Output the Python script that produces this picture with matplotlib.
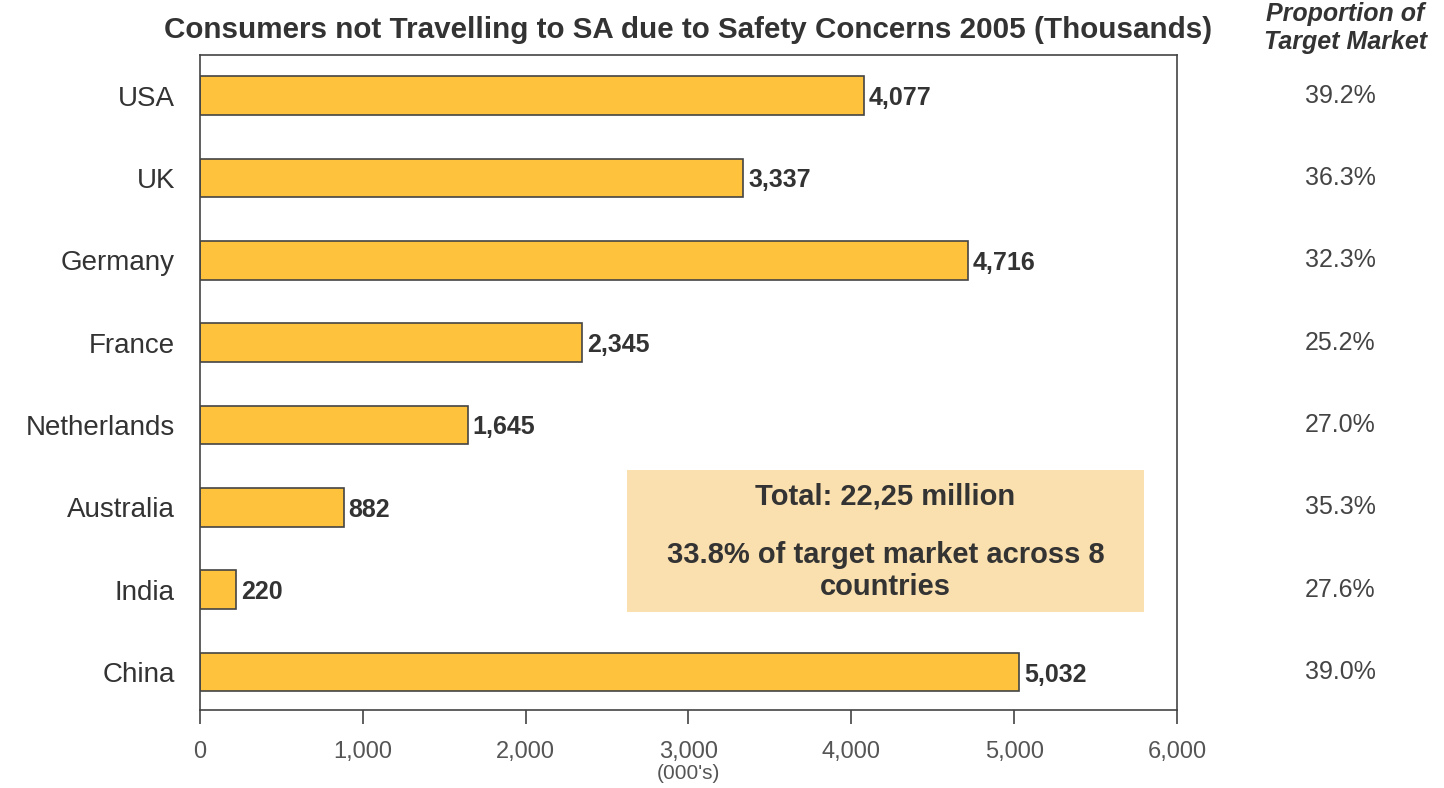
import matplotlib.pyplot as plt
from matplotlib.patches import Rectangle

plt.rcParams['font.family'] = ['Liberation Sans', 'DejaVu Sans']

countries = ['USA', 'UK', 'Germany', 'France', 'Netherlands', 'Australia', 'India', 'China']
consumers = [4077, 3337, 4716, 2345, 1645, 882, 220, 5032]
proportion = ['39.2%', '36.3%', '32.3%', '25.2%', '27.0%', '35.3%', '27.6%', '39.0%']
xticks = [0, 1000, 2000, 3000, 4000, 5000, 6000]

fig = plt.figure(figsize=(14.44, 7.88), dpi=100)
ax = fig.add_axes([0.1385, 0.099, 0.6766, 0.831])

pos = list(range(len(countries)))
ax.barh(pos, consumers, height=0.47, color='#FFC23C', edgecolor='#444444', linewidth=1.2)

# value labels at bar ends
for p, v in zip(pos, consumers):
    ax.text(v + 30, p + 0.03, f'{v:,}', va='center', ha='left', fontsize=18,
            fontweight='bold', color='#333333')

ax.set_ylim(7.46, -0.49)
ax.set_xlim(0, 6000)
ax.set_yticks(pos)
ax.set_yticklabels(countries, fontsize=20, color='#333333')
ax.tick_params(axis='y', length=0, pad=18)
ax.set_xticks(xticks)
ax.set_xticklabels([f'{t:,}' for t in xticks], fontsize=17, color='#555555')
ax.tick_params(axis='x', length=10, width=1.2, color='#444444', pad=12)
for s in ax.spines.values():
    s.set_color('#444444')
    s.set_linewidth(1.2)

ax.annotate("(000's)", xy=(0.5, 0), xycoords='axes fraction', xytext=(0, -39),
            textcoords='offset points', ha='center', va='top', fontsize=15,
            color='#555555')

ax.set_title('Consumers not Travelling to SA due to Safety Concerns 2005 (Thousands)',
             fontsize=21.3, fontweight='bold', color='#333333', pad=12, x=0.50)

# proportion column
for p, t in zip(pos, proportion):
    ax.text(1.167, p, t, transform=ax.get_yaxis_transform(), ha='center', va='center',
            fontsize=18, color='#444444')
fig.text(0.9315, 0.998, 'Proportion of\nTarget Market', ha='center', va='top',
         fontsize=18, fontweight='bold', fontstyle='italic', color='#333333',
         linespacing=1.25)

# summary box
ax.add_patch(Rectangle((2620, 4.545), 3180, 1.725, facecolor='#FAE0AE', edgecolor='none',
                       zorder=3))
ax.text(4210, 4.87, 'Total: 22,25 million', ha='center', va='center', fontsize=21,
        fontweight='bold', color='#333333', zorder=4)
ax.text(4210, 5.77, '33.8% of target market across 8\ncountries', ha='center',
        va='center', fontsize=21, fontweight='bold', color='#333333', zorder=4,
        linespacing=1.2)

fig.savefig('out.png', dpi=100)
